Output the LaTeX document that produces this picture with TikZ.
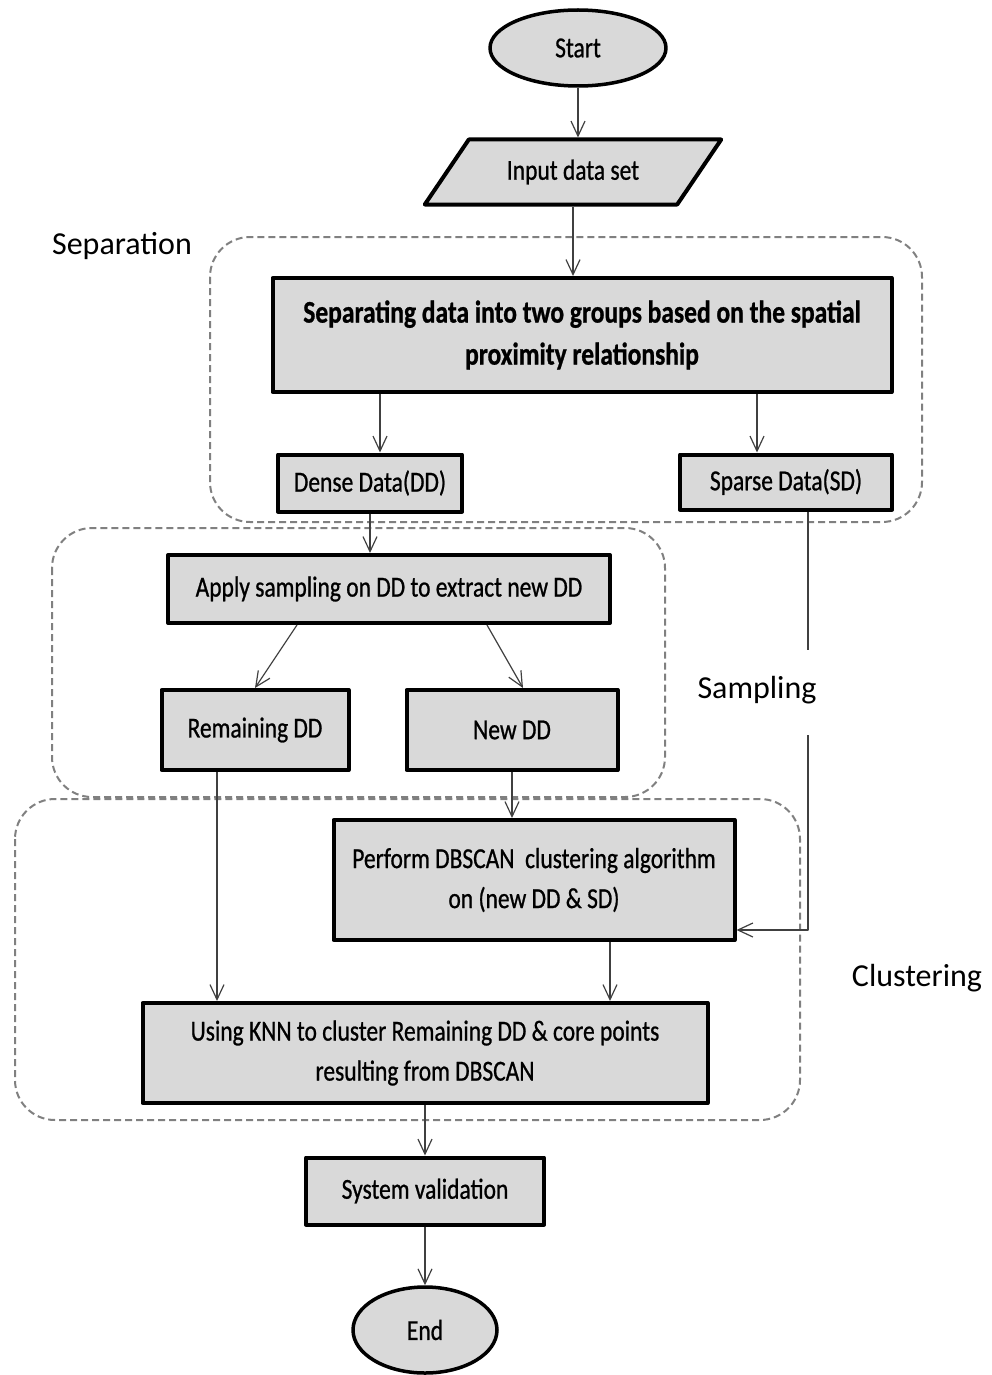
\documentclass[tikz,border=0pt]{standalone}
\usepackage{fontspec}
\setmainfont{Carlito}[FakeStretch=0.81,FakeBold=0.8]
\newfontfamily\tagfont{Carlito}
\usetikzlibrary{arrows.meta,shapes.geometric}
\definecolor{boxgray}{HTML}{D9D9D9}

\begin{document}
\begin{tikzpicture}[x=1pt, y=-1pt, line join=round,
    every node/.style={font=\fontsize{29}{40}\selectfont},
    box/.style={draw, line width=4pt, fill=boxgray, align=center, inner sep=0pt},
    term/.style={ellipse, draw, line width=3.5pt, fill=boxgray, inner sep=0pt},
    region/.style={draw=black!50, dash pattern=on 7pt off 4pt, line width=2pt, rounded corners=40pt},
    arr/.style={-{Straight Barb[length=15pt,width=14pt]}, line width=1.2pt, color=black!75},
    tag/.style={font=\tagfont\fontsize{32}{38}\selectfont}]
    \useasboundingbox (0,0) rectangle (992,1375);

    % dashed groups
    \draw[region] (210,237) rectangle (922,522);
    \draw[region] (52,528) rectangle (665,797);
    \draw[region] (15,799) rectangle (800,1120);
    \node[tag] (septag) at (122,246) {Separation};
    \node[tag] (samptag) at (757,690) {Sampling};
    \node[tag] (clustag) at (917,978) {Clustering};

    % steps
    \node[term, minimum width=176pt, minimum height=76pt] (start) at (578,48) {Start};
    \node[trapezium, trapezium left angle=47, trapezium right angle=133, trapezium stretches=true,
          draw, line width=4pt, fill=boxgray, minimum width=297pt, minimum height=65pt] (input) at (573,172) {Input data set};
    \node[box, minimum width=619pt, minimum height=114pt, font=\fontsize{31.5}{42}\selectfont\bfseries] (sep) at (582,335)
        {Separating data into two groups based on the spatial\\proximity relationship};
    \node[box, minimum width=184pt, minimum height=57pt] (dd) at (370,483) {Dense Data(DD)};
    \node[box, minimum width=212pt, minimum height=55pt] (sd) at (786,482) {Sparse Data(SD)};
    \node[box, minimum width=442pt, minimum height=68pt] (apply) at (389,589) {Apply sampling on DD to extract new DD};
    \node[box, minimum width=187pt, minimum height=80pt] (rem) at (255,730) {Remaining DD};
    \node[box, minimum width=211pt, minimum height=80pt] (newdd) at (512,730) {New DD};
    \node[box, minimum width=401pt, minimum height=120pt] (dbscan) at (534,880)
        {Perform DBSCAN\ \ clustering algorithm\\on (new DD \& SD)};
    \node[box, minimum width=565pt, minimum height=100pt] (knn) at (425,1053)
        {Using KNN to cluster Remaining DD \& core points\\resulting from DBSCAN};
    \node[box, minimum width=238pt, minimum height=67pt] (valid) at (425,1191) {System validation};
    \node[term, minimum width=144pt, minimum height=86pt] (end) at (425,1330) {End};

    % flow
    \coordinate (gapa) at (808,650);
    \coordinate (gapb) at (808,735);
    \draw[arr] (start.south) -- (start.south |- input.north);
    \draw[arr] (input.south) -- (input.south |- sep.north);
    \draw[arr] ([xshift=10pt]dd.north |- sep.south) -- ([xshift=10pt]dd.north);
    \draw[arr] ([xshift=-29pt]sd.north |- sep.south) -- ([xshift=-29pt]sd.north);
    \draw[arr] (dd.south) -- (dd.south |- apply.north);
    \draw[arr] ([xshift=-92pt]apply.south) -- (rem.north);
    \draw[arr] ([xshift=98pt]apply.south) -- ([xshift=11pt]newdd.north);
    \draw[arr] (newdd.south) -- (newdd.south |- dbscan.north);
    \draw[line width=1.2pt, color=black!75] ([xshift=22pt]sd.south) -- (gapa);
    \draw[arr] (gapb) |- ([yshift=-50pt]dbscan.east);
    \draw[arr] ([xshift=-38pt]rem.south) -- ([xshift=-38pt]rem.south |- knn.north);
    \draw[arr] ([xshift=76pt]dbscan.south) -- ([xshift=76pt]dbscan.south |- knn.north);
    \draw[arr] (knn.south) -- (knn.south |- valid.north);
    \draw[arr] (valid.south) -- (end.north);
\end{tikzpicture}
\end{document}
